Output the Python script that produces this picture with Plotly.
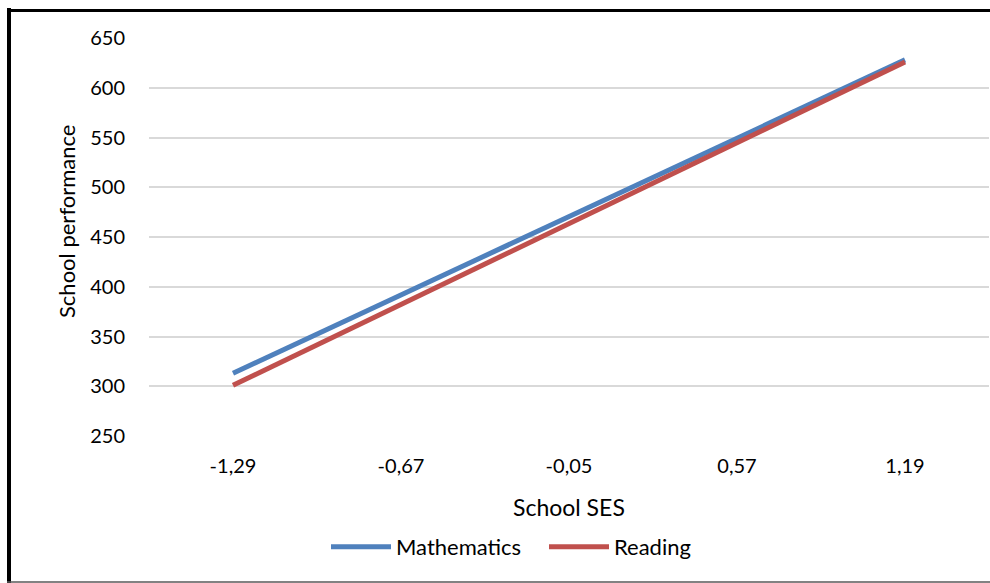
import plotly.graph_objects as go

categories = ["-1,29", "-0,67", "-0,05", "0,57", "1,19"]
mathematics = [313, 392, 471, 549, 628]
reading = [301, 382, 463, 545, 626]
y_ticks = [250, 300, 350, 400, 450, 500, 550, 600, 650]

FONT = "Lato"
W, H = 990, 583
L, R, T, B = 149, 1, 38, 147
pw, ph = W - L - R, H - T - B

def px_x(px):
    return (px - L) / pw

def px_y(py):
    return (H - B - py) / ph

fig = go.Figure()
fig.add_trace(go.Scatter(x=categories, y=mathematics, mode="lines", name="Mathematics",
                         line=dict(color="#4F81BD", width=5)))
fig.add_trace(go.Scatter(x=categories, y=reading, mode="lines", name="Reading",
                         line=dict(color="#C0504D", width=5)))

fig.update_layout(
    width=W, height=H,
    margin=dict(l=L, r=R, t=T, b=B),
    paper_bgcolor="white", plot_bgcolor="white",
    font=dict(family=FONT, size=20, color="#000000"),
    showlegend=True,
    legend=dict(orientation="h", x=px_x(326), y=px_y(547), xanchor="left", yanchor="middle",
                font=dict(size=22), bgcolor="rgba(0,0,0,0)", itemwidth=60,
                entrywidth=143, entrywidthmode="pixels"),
    xaxis=dict(type="category", range=[-0.5, 4.5], showgrid=False, showline=False,
               zeroline=False, ticks="", ticklabelstandoff=16, tickfont=dict(size=20)),
    yaxis=dict(range=[250, 650], tickvals=y_ticks, showgrid=True, gridcolor="#D9D9D9",
               gridwidth=1.5, zeroline=False, showline=False, ticks="",
               ticklabelstandoff=23, tickfont=dict(size=20)),
    annotations=[
        dict(text="School SES", xref="paper", yref="paper", x=px_x(569), y=px_y(507),
             xanchor="center", yanchor="middle", showarrow=False, font=dict(size=23)),
        dict(text="School performance", xref="paper", yref="paper", x=px_x(66), y=px_y(222),
             xanchor="center", yanchor="middle", textangle=-90, showarrow=False,
             font=dict(size=22)),
    ],
    shapes=[
        dict(type="line", xref="paper", yref="paper", x0=px_x(9), x1=px_x(9),
             y0=px_y(8), y1=px_y(585), line=dict(color="black", width=4)),
        dict(type="line", xref="paper", yref="paper", x0=px_x(7), x1=px_x(992),
             y0=px_y(10.5), y1=px_y(10.5), line=dict(color="black", width=3)),
        dict(type="line", xref="paper", yref="paper", x0=px_x(7), x1=px_x(992),
             y0=px_y(582), y1=px_y(582), line=dict(color="#595959", width=1.5)),
    ],
)

fig.write_html("out.html", config={"displayModeBar": False},
               post_script="document.body.style.margin='0';document.body.style.overflow='hidden';")
